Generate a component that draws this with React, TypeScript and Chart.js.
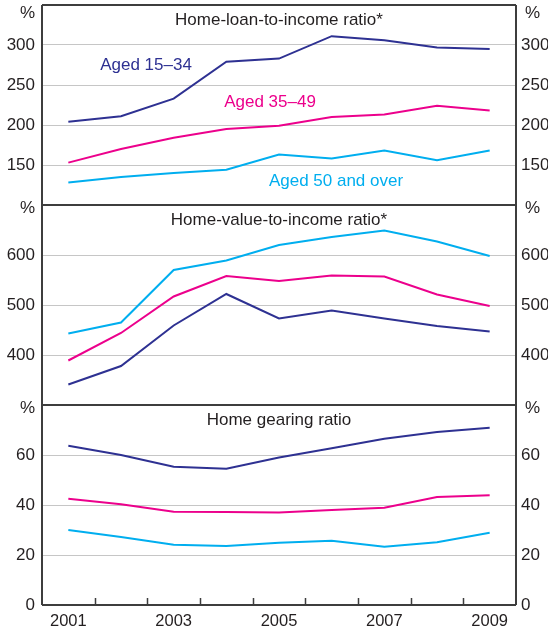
import React, { useEffect, useRef } from 'react';
import { Chart, registerables } from 'chart.js';

Chart.register(...registerables);

const years = ['2001', '2002', '2003', '2004', '2005', '2006', '2007', '2008', '2009'];

const loanAged15to34 = [204, 211, 233, 279, 283, 311, 306, 297, 295];
const loanAged35to49 = [153, 170, 184, 195, 199, 210, 213, 224, 218];
const loanAged50plus = [128, 135, 140, 144, 163, 158, 168, 156, 168];

const valueAged15to34 = [341, 378, 459, 522, 473, 489, 473, 458, 447];
const valueAged35to49 = [389, 444, 517, 558, 548, 559, 557, 521, 498];
const valueAged50plus = [443, 465, 570, 589, 620, 636, 649, 627, 598];

const gearingAged15to34 = [63.7, 60, 55.3, 54.5, 59, 62.7, 66.5, 69.2, 70.9];
const gearingAged35to49 = [42.5, 40.3, 37.3, 37.2, 37, 38, 38.9, 43.2, 43.9];
const gearingAged50plus = [30, 27.2, 24.1, 23.6, 24.9, 25.7, 23.3, 25.1, 28.9];

const panelTitles = ['Home-loan-to-income ratio*', 'Home-value-to-income ratio*', 'Home gearing ratio'];
const panelMin = [100, 300, 0];
const panelMax = [350, 700, 80];
const panelStep = [50, 100, 20];
const seriesNames = ['Aged 15–34', 'Aged 35–49', 'Aged 50 and over'];

const COLORS = ['#2e3192', '#ec008c', '#00aeef'];
const FONT = 'Liberation Sans, Arial, sans-serif';
const TEXT = '#231f20';
const LINE = '#3d3d3d';
const GRID = '#c6c6c6';

const panelIds = ['yA', 'yB', 'yC'];
const rightIds = ['rA', 'rB', 'rC'];

function makeY(i: number, side: 'left' | 'right') {
  const min = panelMin[i];
  const max = panelMax[i];
  return {
    type: 'linear',
    position: side,
    stack: side,
    stackWeight: 1,
    weight: side === 'left' ? 3 - i : i + 1,
    min,
    max,
    ticks: {
      stepSize: panelStep[i],
      autoSkip: false,
      color: TEXT,
      font: { family: FONT, size: 17 },
      padding: side === 'left' ? 7 : 5,
      callback: (v: number) => (v === max || (v === min && i < 2) ? '' : String(v)),
    },
    grid: {
      display: side === 'left',
      drawTicks: false,
      lineWidth: 1,
      color: (ctx: any) =>
        ctx.tick && (ctx.tick.value === min || ctx.tick.value === max) ? 'rgba(0,0,0,0)' : GRID,
    },
    border: { display: false },
    afterFit: (s: any) => {
      s.width = side === 'left' ? 42 : 32;
      s.paddingTop = 0;
      s.paddingBottom = 0;
    },
  };
}

const framePlugin = {
  id: 'framePlugin',
  afterDatasetsDraw(chart: any) {
    const { ctx, chartArea } = chart;
    const { left, right, top, bottom } = chartArea;
    ctx.save();
    ctx.strokeStyle = LINE;
    ctx.lineWidth = 2;
    ctx.beginPath();
    ctx.moveTo(left, top);
    ctx.lineTo(right, top);
    ctx.moveTo(left, top);
    ctx.lineTo(left, bottom);
    ctx.moveTo(right, top);
    ctx.lineTo(right, bottom);
    ctx.moveTo(left, bottom);
    ctx.lineTo(right, bottom);
    for (let i = 0; i < 2; i++) {
      const s = chart.scales[panelIds[i]];
      ctx.moveTo(left, s.bottom);
      ctx.lineTo(right, s.bottom);
    }
    ctx.stroke();
    const xs = chart.scales.x;
    ctx.lineWidth = 1.5;
    ctx.beginPath();
    for (let i = 1; i < years.length; i++) {
      const x = Math.round((xs.getPixelForTick(i - 1) + xs.getPixelForTick(i)) / 2) + 0.5;
      ctx.moveTo(x, bottom);
      ctx.lineTo(x, bottom - 7);
    }
    ctx.stroke();

    ctx.fillStyle = TEXT;
    ctx.font = `17px ${FONT}`;
    ctx.textAlign = 'center';
    ctx.textBaseline = 'alphabetic';
    const cx = (left + right) / 2;
    for (let i = 0; i < 3; i++) {
      const s = chart.scales[panelIds[i]];
      ctx.fillText(panelTitles[i], cx, s.top + 19.5);
    }

    const pctY = [8.5, 3.5, 3.5];
    ctx.textBaseline = 'middle';
    for (let i = 0; i < 3; i++) {
      const s = chart.scales[panelIds[i]];
      ctx.textAlign = 'right';
      ctx.fillText('%', left - 7, s.top + pctY[i]);
      ctx.textAlign = 'left';
      ctx.fillText('%', right + 9, s.top + pctY[i]);
    }

    const sA = chart.scales.yA;
    const labelPos = [
      [146, 65],
      [270, 102],
      [336, 181],
    ];
    ctx.textAlign = 'center';
    for (let k = 0; k < 3; k++) {
      ctx.fillStyle = COLORS[k];
      ctx.fillText(seriesNames[k], labelPos[k][0], sA.top - 5 + labelPos[k][1]);
    }
    ctx.restore();
  },
};

export default function App() {
  const ref = useRef<HTMLCanvasElement>(null);
  useEffect(() => {
    if (!ref.current) return;
    const series = [
      [loanAged15to34, loanAged35to49, loanAged50plus],
      [valueAged15to34, valueAged35to49, valueAged50plus],
      [gearingAged15to34, gearingAged35to49, gearingAged50plus],
    ];
    const datasets: any[] = [];
    series.forEach((group, p) => {
      group.forEach((data, k) => {
        datasets.push({
          label: `${panelTitles[p]} ${seriesNames[k]}`,
          data,
          yAxisID: panelIds[p],
          borderColor: COLORS[k],
          backgroundColor: COLORS[k],
          borderWidth: 2,
          pointRadius: 0,
          tension: 0,
          fill: false,
        });
      });
    });
    const scales: any = {
      x: {
        type: 'category',
        offset: true,
        grid: { display: false, drawTicks: false },
        border: { display: false },
        ticks: {
          autoSkip: false,
          maxRotation: 0,
          color: TEXT,
          font: { family: FONT, size: 16.5 },
          padding: 7,
          callback: (_v: any, i: number) => (i % 2 === 0 ? years[i] : ''),
        },
        afterFit: (s: any) => {
          s.height = 25;
          s.paddingLeft = 0;
          s.paddingRight = 0;
        },
      },
    };
    for (let i = 0; i < 3; i++) {
      scales[panelIds[i]] = makeY(i, 'left');
    }
    for (let i = 0; i < 3; i++) {
      scales[rightIds[i]] = makeY(i, 'right');
    }
    const chart = new Chart(ref.current, {
      type: 'line',
      data: { labels: years, datasets },
      options: {
        responsive: false,
        animation: false,
        devicePixelRatio: 1,
        layout: { padding: { top: 5, left: 0, right: 0, bottom: 0 } },
        plugins: { legend: { display: false }, tooltip: { enabled: false }, title: { display: false } },
        scales,
      } as any,
      plugins: [framePlugin],
    });
    return () => chart.destroy();
  }, []);
  return (
    <div style={{ position: 'absolute', left: 0, top: 0, width: 548, height: 630, overflow: 'hidden', background: '#fff' }}>
      <canvas ref={ref} width={548} height={630} style={{ display: 'block' }} />
    </div>
  );
}
